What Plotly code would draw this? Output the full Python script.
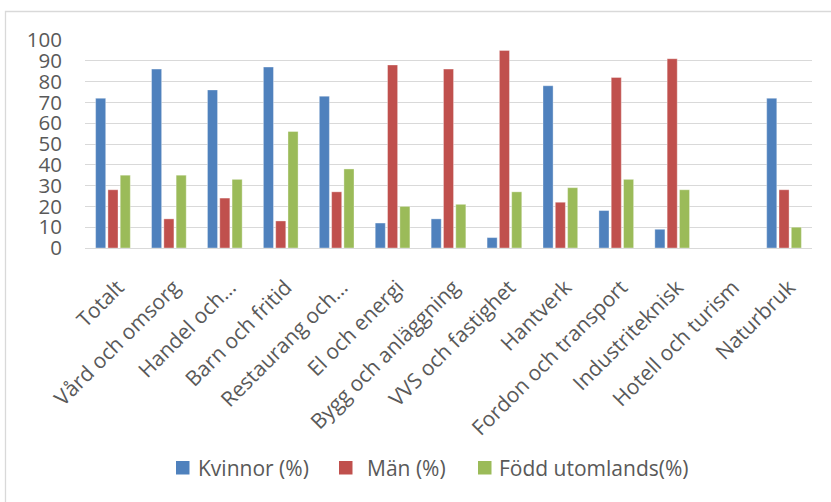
import plotly.graph_objects as go

categories = ["Totalt", "Vård och omsorg", "Handel och…", "Barn och fritid",
              "Restaurang och…", "El och energi", "Bygg och anläggning",
              "VVS och fastighet", "Hantverk", "Fordon och transport",
              "Industriteknisk", "Hotell och turism", "Naturbruk"]
kvinnor = [72, 86, 76, 87, 73, 12, 14, 5, 78, 18, 9, None, 72]
man = [28, 14, 24, 13, 27, 88, 86, 95, 22, 82, 91, None, 28]
fodd_utomlands = [35, 35, 33, 56, 38, 20, 21, 27, 29, 33, 28, None, 10]
series_names = ["Kvinnor (%)", "Män (%)", "Född utomlands(%)"]

series = [
    (series_names[0], kvinnor, "#4F81BD"),
    (series_names[1], man, "#C0504D"),
    (series_names[2], fodd_utomlands, "#9BBB59"),
]

FONT = "Open Sans"
GRAY = "#595959"

fig = go.Figure()
for name, vals, col in series:
    fig.add_trace(go.Bar(
        x=categories, y=vals, name=name, showlegend=False,
        marker=dict(color=col, line=dict(color="rgba(255,255,255,0.45)", width=0.8)),
    ))

W, H = 831, 502
L, R, T, B = 85, 19, 40, 254
pw, ph = W - L - R, H - T - B

def px_x(x):
    return (x - L) / pw

def px_y(y):
    return (H - B - y) / ph

# manual legend (square + label), placed in paper coordinates
legend_sq_x = [176, 339, 478]
legend_txt_x = [196, 365, 497]
legend_y = 468
shapes = [dict(type="rect", xref="paper", yref="paper",
               x0=px_x(5.5), x1=1.5, y0=px_y(515), y1=px_y(11.5),
               line=dict(color="#D9D9D9", width=1.3), fillcolor="rgba(0,0,0,0)",
               layer="below")]
annotations = []
for (name, _, col), sx, tx in zip(series, legend_sq_x, legend_txt_x):
    shapes.append(dict(type="rect", xref="paper", yref="paper",
                       x0=px_x(sx), x1=px_x(sx + 13.5),
                       y0=px_y(legend_y + 6.5), y1=px_y(legend_y - 7),
                       line=dict(width=0), fillcolor=col))
    annotations.append(dict(text=name, xref="paper", yref="paper",
                            x=px_x(tx), y=px_y(legend_y), xanchor="left", yanchor="middle",
                            showarrow=False,
                            font=dict(family=FONT, size=21, color=GRAY)))

fig.update_layout(
    width=W, height=H,
    margin=dict(l=L, r=R, t=T, b=B, pad=0),
    paper_bgcolor="white", plot_bgcolor="white",
    barmode="group", bargap=0.34, bargroupgap=0.18,
    font=dict(family=FONT, color=GRAY, size=20),
    showlegend=False,
    xaxis=dict(tickangle=-45, tickfont=dict(family=FONT, size=21, color=GRAY),
               showgrid=False, showline=False, ticks="", ticklabelstandoff=22,
               ticklabelshift=5, fixedrange=True),
    yaxis=dict(range=[0, 100], dtick=10, tickfont=dict(family=FONT, size=20.5, color=GRAY),
               showgrid=True, gridcolor="#D9D9D9", gridwidth=1.3,
               zeroline=True, zerolinecolor="#D9D9D9", zerolinewidth=1.3,
               showline=False, ticks="", ticklabelstandoff=22, fixedrange=True),
    shapes=shapes,
    annotations=annotations,
)

fig.write_html("out.html")
